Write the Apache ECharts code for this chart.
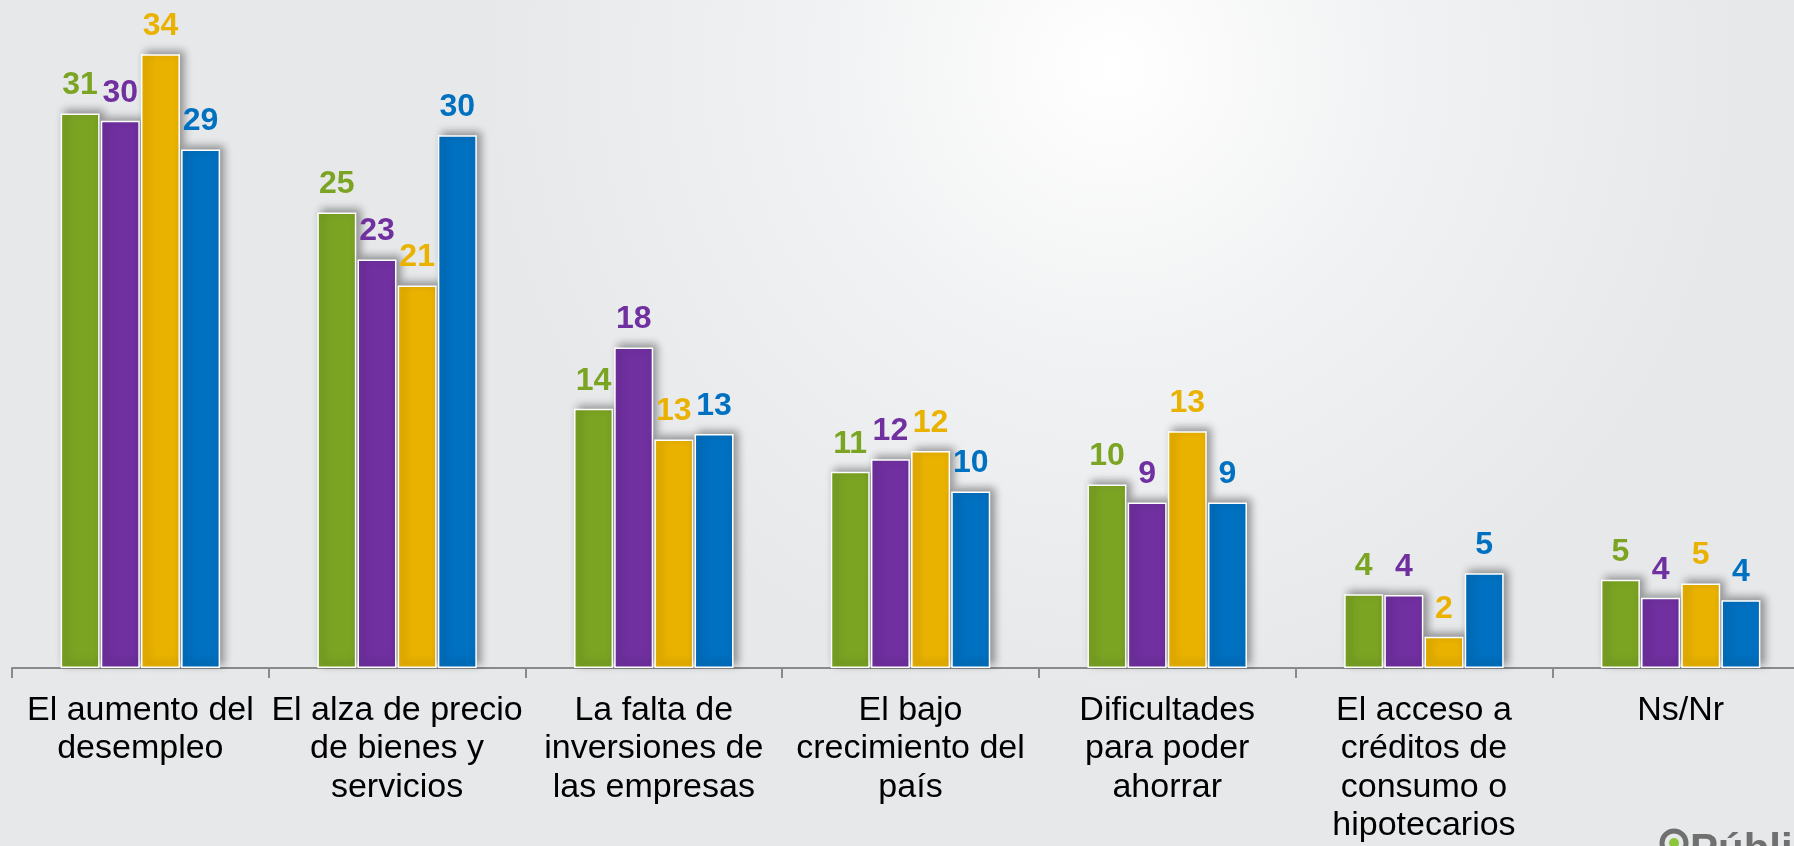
<!DOCTYPE html>
<html>
<head>
<meta charset="utf-8">
<script src="https://cdn.jsdelivr.net/npm/echarts@6/dist/echarts.min.js"></script>
<style>
html,body{margin:0;padding:0;width:1794px;height:846px;overflow:hidden;}
#c{width:1794px;height:846px;}
</style>
</head>
<body>
<div id="c"></div>
<script>
var categories = [
  "El aumento del\ndesempleo",
  "El alza de precio\nde bienes y\nservicios",
  "La falta de\ninversiones de\nlas empresas",
  "El bajo\ncrecimiento del\npaís",
  "Dificultades\npara poder\nahorrar",
  "El acceso a\ncréditos de\nconsumo o\nhipotecarios",
  "Ns/Nr"
];
var seriesGreen  = [30.8, 25.3, 14.4, 10.9, 10.2, 4.1, 4.9];
var seriesPurple = [30.4, 22.7, 17.8, 11.6, 9.2, 4.05, 3.9];
var seriesYellow = [34.1, 21.25, 12.7, 12.05, 13.15, 1.74, 4.7];
var seriesBlue   = [28.8, 29.6, 13.0, 9.8, 9.2, 5.26, 3.77];
var seriesColors = ["#7BA423", "#7030A0", "#EAB200", "#0070C0"];

var chart = echarts.init(document.getElementById('c'));

function mk(name, data, color) {
  return {
    name: name,
    type: 'bar',
    data: data,
    barWidth: 39,
    barGap: '3%',
    itemStyle: {
      color: color,
      borderColor: '#ffffff',
      borderWidth: 1.5,
      shadowColor: 'rgba(0,0,0,0.38)',
      shadowBlur: 8,
      shadowOffsetX: 4,
      shadowOffsetY: -3
    },
    label: {
      show: true,
      position: 'top',
      distance: 12,
      color: color,
      fontSize: 32,
      fontWeight: 'bold',
      fontFamily: 'Arial, "Liberation Sans", sans-serif',
      formatter: function (p) { return Math.round(p.value); }
    }
  };
}

chart.setOption({
  animation: false,
  backgroundColor: new echarts.graphic.RadialGradient(0.62, 0.08, 0.75, [
    {offset: 0, color: '#ffffff'},
    {offset: 0.45, color: '#f1f2f3'},
    {offset: 1, color: '#e7e8ea'}
  ]),
  grid: {left: 12, top: 2, width: 1797, height: 666, containLabel: false, outerBoundsMode: 'none'},
  xAxis: {
    type: 'category',
    data: categories,
    axisLine: {show: true, lineStyle: {color: '#8a8a8a', width: 2}},
    axisTick: {show: true, length: 10, lineStyle: {color: '#8a8a8a', width: 2}},
    axisLabel: {
      interval: 0,
      margin: 23,
      color: '#000000',
      fontSize: 34,
      lineHeight: 38.5,
      fontFamily: 'Arial, "Liberation Sans", sans-serif'
    }
  },
  yAxis: {
    type: 'value',
    min: 0,
    max: 37,
    show: false,
    splitLine: {show: false}
  },
  series: [
    mk('s1', seriesGreen, seriesColors[0]),
    mk('s2', seriesPurple, seriesColors[1]),
    mk('s3', seriesYellow, seriesColors[2]),
    mk('s4', seriesBlue, seriesColors[3])
  ],
  graphic: [
    {type: 'circle', shape: {cx: 1674, cy: 843, r: 12}, style: {fill: 'none', stroke: '#707070', lineWidth: 5}},
    {type: 'circle', shape: {cx: 1674, cy: 843, r: 5}, style: {fill: '#8cc63f'}},
    {type: 'text', x: 1690, y: 830, style: {text: 'Pública', fill: '#707070', font: 'bold 42px Arial, "Liberation Sans", sans-serif', textVerticalAlign: 'top'}}
  ]
});
</script>
</body>
</html>
